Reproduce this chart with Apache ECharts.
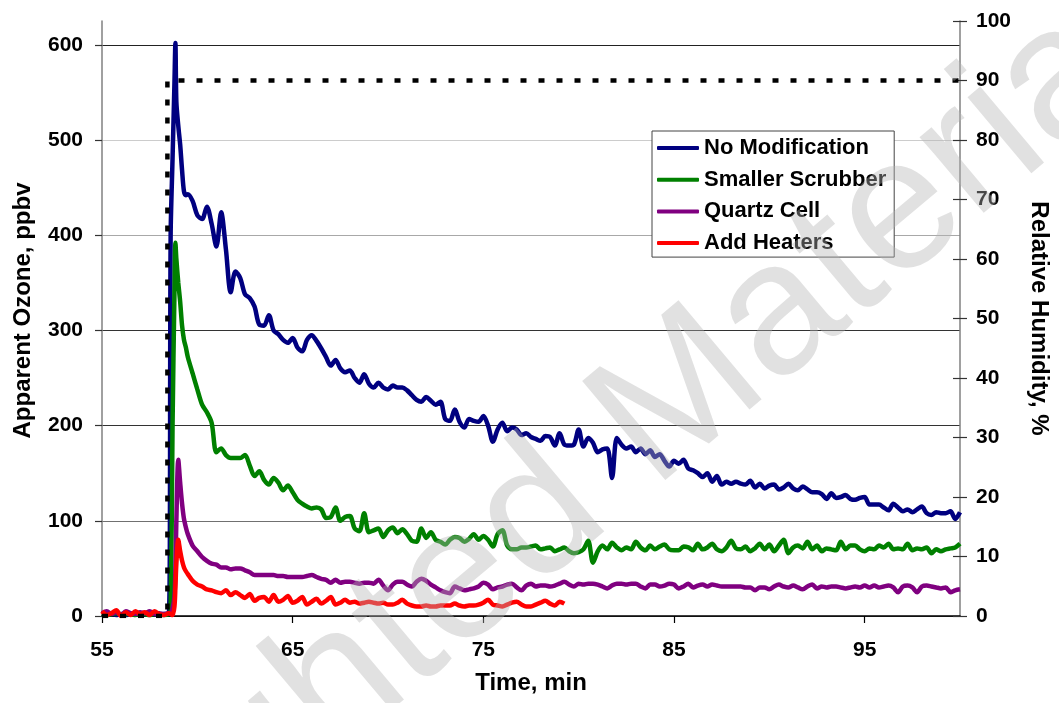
<!DOCTYPE html>
<html>
<head>
<meta charset="utf-8">
<title>Apparent Ozone vs Time</title>
<script src="https://cdn.jsdelivr.net/npm/echarts@6/dist/echarts.min.js"></script>
<style>
  html, body { margin: 0; padding: 0; background: #fff; }
  #chart { width: 1059px; height: 703px; }
</style>
</head>
<body>
<div id="chart"></div>
<script>
// Sample times (min)
const times = [
  55, 55.25, 55.5, 55.75, 56, 56.25, 56.5, 56.75, 57, 57.25, 57.5, 57.75, 58, 58.25, 58.5,
  58.6, 58.7, 58.8, 58.85, 58.9, 59, 59.1, 59.2, 59.3, 59.4, 59.5,
  59.75,
  60, 60.25, 60.5, 60.75, 61, 61.25, 61.5, 61.75, 62, 62.25, 62.5, 62.75, 63, 63.25, 63.5, 63.75,
  64, 64.25, 64.5, 64.75, 65, 65.25, 65.5, 65.75, 66, 66.25, 66.5, 66.75, 67, 67.25, 67.5, 67.75,
  68, 68.25, 68.5, 68.75, 69, 69.25, 69.5, 69.75, 70, 70.25, 70.5, 70.75, 71, 71.25, 71.5, 71.75,
  72, 72.25, 72.5, 72.75, 73, 73.25, 73.5, 73.75, 74, 74.25, 74.5, 74.75, 75, 75.25, 75.5, 75.75,
  76, 76.25, 76.5, 76.75, 77, 77.25, 77.5, 77.75, 78, 78.25, 78.5, 78.75, 79, 79.25, 79.5, 79.75,
  80, 80.25, 80.5, 80.75, 81, 81.25, 81.5, 81.75, 82, 82.25, 82.5, 82.75, 83, 83.25, 83.5, 83.75,
  84, 84.25, 84.5, 84.75, 85, 85.25, 85.5, 85.75, 86, 86.25, 86.5, 86.75, 87, 87.25, 87.5, 87.75,
  88, 88.25, 88.5, 88.75, 89, 89.25, 89.5, 89.75, 90, 90.25, 90.5, 90.75, 91, 91.25, 91.5, 91.75,
  92, 92.25, 92.5, 92.75, 93, 93.25, 93.5, 93.75, 94, 94.25, 94.5, 94.75, 95, 95.25, 95.5, 95.75,
  96, 96.25, 96.5, 96.75, 97, 97.25, 97.5, 97.75, 98, 98.25, 98.5, 98.75, 99, 99.25, 99.5, 99.75,
  100
];

// Apparent ozone, ppbv
const noModification = [
  2, 1, 3, 1, 2, 1, 2, 2, 1, 2, 3, 2, 1, 2, 2,
  400, 480, 560, 602, 540, 515, 495, 468, 446, 442, 443,
  436,
  421, 417, 430, 412, 388, 424, 385, 340, 362, 355, 338, 334, 325, 306, 305, 316,
  300, 296, 290, 287, 292, 282, 278, 290, 295, 289, 281, 272, 263, 269, 260, 256,
  258, 250, 245, 254, 244, 240, 245, 240, 238, 242, 240, 240, 237, 232, 227, 225,
  230, 226, 222, 225, 207, 205, 217, 204, 198, 207, 205, 204, 210, 200, 183, 196,
  203, 194, 198, 196, 190, 192, 188, 186, 184, 189, 188, 179, 192, 180, 179, 180,
  196, 178, 187, 182, 172, 175, 176, 145, 187, 180, 176, 178, 172, 176, 170, 174,
  167, 170, 163, 157, 163, 160, 164, 155, 153, 150, 146, 150, 141, 147, 138, 141,
  139, 141, 139, 138, 142, 135, 139, 134, 137, 138, 133, 135, 139, 134, 132, 136,
  133, 130, 130, 128, 123, 129, 124, 125, 127, 123, 122, 124, 125, 117, 117, 117,
  114, 111, 118, 114, 110, 112, 109, 112, 115, 108, 106, 109, 108, 108, 110, 102,
  109
];

const smallerScrubber = [
  2, 1, 2, 3, 1, 2, 2, 1, 3, 2, 1, 2, 2, 1, 2,
  5, 200, 340, 392, 375, 350, 330, 305, 290, 282, 272,
  255,
  238, 222, 214, 203, 172, 176, 169, 166, 166, 166, 169, 158, 147, 152, 143, 138,
  145, 140, 132, 137, 130, 122, 118, 115, 113, 114, 112, 103, 104, 114, 100, 104,
  105, 92, 89, 108, 88, 90, 92, 83, 90, 93, 87, 91, 86, 79, 78, 92,
  82, 88, 80, 78, 75, 80, 83, 82, 78, 81, 86, 80, 84, 80, 73, 86,
  90, 74, 70, 70, 72, 72, 73, 74, 70, 71, 72, 68, 70, 72, 68, 66,
  67, 70, 79, 56, 68, 74, 70, 77, 72, 69, 72, 70, 78, 72, 69, 74,
  70, 73, 75, 70, 69, 69, 73, 72, 69, 76, 70, 72, 76, 70, 68, 72,
  79, 71, 70, 73, 68, 71, 76, 70, 75, 68, 74, 80, 66, 72, 74, 71,
  78, 70, 74, 68, 71, 70, 69, 78, 70, 74, 74, 70, 68, 71, 70, 74,
  72, 76, 70, 71, 70, 76, 69, 71, 70, 72, 66, 70, 68, 70, 71, 72,
  76
];

const quartzCell = [
  3, 5, 2, 4, 1, 5, 3, 2, 4, 3, 5, 2, 3, 2, 3,
  3, 8, 20, 50, 100, 164, 140, 118, 102, 93, 86,
  74,
  68, 62, 58, 55, 54, 51, 51, 49, 50, 50, 48, 46, 43, 43, 43, 43,
  43, 42, 42, 41, 41, 41, 41, 42, 43, 41, 39, 38, 35, 38, 35, 36,
  36, 35, 34, 35, 35, 34, 38, 32, 27, 33, 36, 36, 33, 31, 36, 39,
  37, 33, 30, 27, 25, 24, 31, 29, 27, 28, 29, 31, 35, 33, 28, 30,
  31, 33, 34, 30, 27, 32, 34, 31, 32, 32, 31, 32, 34, 36, 33, 31,
  34, 33, 34, 34, 33, 31, 29, 32, 34, 34, 33, 34, 34, 31, 29, 33,
  33, 31, 32, 34, 33, 29, 31, 34, 30, 32, 33, 31, 33, 32, 31, 31,
  31, 31, 31, 30, 30, 27, 30, 30, 28, 31, 33, 31, 30, 32, 30, 28,
  31, 33, 29, 31, 30, 31, 31, 30, 29, 30, 31, 30, 32, 30, 32, 30,
  31, 32, 30, 25, 31, 32, 30, 25, 31, 32, 31, 30, 29, 30, 25, 27,
  28
];

const addHeaters = [
  5, 1, 3, 6, 0, 4, 1, 5, 2, 4, 1, 5, 2, 1, 3,
  2, 1, 10, 30, 55, 80, 68, 58, 51, 47, 44,
  37,
  33, 31, 28, 27, 25, 24, 27, 22, 25, 22, 19, 23, 16, 19, 20, 15,
  22, 15, 17, 21, 14, 16, 20, 12, 15, 18, 13, 16, 20, 12, 14, 17,
  14, 15, 13, 14, 15, 14, 13, 14, 12, 12, 14, 17, 13, 11, 10, 10,
  11, 10, 10, 11, 11, 11, 13, 11, 10, 11, 11, 12, 14, 17, 12, 11,
  10, 12, 14, 15, 12, 10, 10, 12, 14, 16, 13, 11, 15, 13, null, null,
  null, null, null, null, null, null, null, null, null, null, null, null, null, null, null, null,
  null, null, null, null, null, null, null, null, null, null, null, null, null, null, null, null,
  null, null, null, null, null, null, null, null, null, null, null, null, null, null, null, null,
  null, null, null, null, null, null, null, null, null, null, null, null, null, null, null, null,
  null, null, null, null, null, null, null, null, null, null, null, null, null, null, null, null,
  null
];

// Relative humidity step (%)
const rhTimes = [55, 58.43, 58.43, 100];
const rhValues = [0, 0, 90, 90];

// Axis ticks
const ozoneTicks = [0, 100, 200, 300, 400, 500, 600];

const seriesNames = ['No Modification', 'Smaller Scrubber', 'Quartz Cell', 'Add Heaters'];
const seriesColors = ['#000080', '#008000', '#800080', '#ff0000'];
const seriesValues = [noModification, smallerScrubber, quartzCell, addHeaters];

const FONT = 'Liberation Sans, Arial, sans-serif';

function pairs(xs, ys) {
  return xs.map((x, i) => [x, ys[i]]);
}

const chart = echarts.init(document.getElementById('chart'), null, { renderer: 'canvas' });

const ozoneSeries = seriesNames.map((name, i) => ({
  name: name,
  type: 'line',
  xAxisIndex: 0,
  yAxisIndex: 0,
  data: pairs(times, seriesValues[i]),
  showSymbol: false,
  symbol: 'none',
  smooth: 0.3,
  connectNulls: false,
  lineStyle: { color: seriesColors[i], width: 4.5 },
  itemStyle: { color: seriesColors[i] },
  z: 3 + i
}));

const rhSeries = {
  name: 'RH',
  type: 'line',
  xAxisIndex: 0,
  yAxisIndex: 1,
  data: pairs(rhTimes, rhValues),
  showSymbol: false,
  symbol: 'none',
  lineStyle: { color: '#000', width: 4.5, type: [6, 12], cap: 'butt' },
  z: 8
};

const axisLabelStyle = { fontFamily: FONT, fontWeight: 'bold', fontSize: 21, color: '#000' };
const axisNameStyle = { fontFamily: FONT, fontWeight: 'bold', fontSize: 24, color: '#000' };

chart.setOption({
  animation: false,
  backgroundColor: '#fff',
  grid: { left: 102, right: 91, top: 21, bottom: 87, containLabel: false },
  legend: {
    data: seriesNames,
    orient: 'vertical',
    left: 652,
    top: 131,
    padding: [6, 8, 3, 5],
    itemGap: 9.7,
    itemWidth: 42,
    itemHeight: 4,
    icon: 'roundRect',
    backgroundColor: '#fff',
    borderColor: '#444',
    borderWidth: 1,
    borderRadius: 0,
    textStyle: { fontFamily: FONT, fontWeight: 'bold', fontSize: 22, color: '#000' }
  },
  xAxis: [{
    type: 'value',
    min: 55,
    max: 100,
    interval: 10,
    name: 'Time, min',
    nameLocation: 'middle',
    nameGap: 55,
    nameTextStyle: axisNameStyle,
    axisLine: { show: true, onZero: false, lineStyle: { color: '#000', width: 1.5 } },
    axisTick: { show: true, inside: false, length: 7, lineStyle: { color: '#000', width: 1.2 } },
    axisLabel: Object.assign({ margin: 24, showMaxLabel: false }, axisLabelStyle),
    splitLine: { show: false }
  }],
  yAxis: [{
    type: 'value',
    position: 'left',
    min: 0,
    max: 625,
    interval: 100,
    name: 'Apparent Ozone, ppbv',
    nameLocation: 'middle',
    nameGap: 67,
    nameTextStyle: Object.assign({ padding: [0, 0, 0, 16] }, axisNameStyle),
    axisLine: { show: true, onZero: false, lineStyle: { color: '#808080', width: 1.5 } },
    axisTick: { show: true, inside: false, length: 7, customValues: ozoneTicks, lineStyle: { color: '#333', width: 1.2 } },
    axisLabel: Object.assign({ margin: 19, customValues: ozoneTicks }, axisLabelStyle),
    splitLine: {
      show: true,
      lineStyle: { width: 1, color: ['#444', '#707070', '#333', '#333', '#a8a8a8', '#cccccc', '#222', '#fff'] }
    }
  }, {
    type: 'value',
    position: 'right',
    min: 0,
    max: 100,
    interval: 10,
    name: 'Relative Humidity, %',
    nameLocation: 'middle',
    nameRotate: -90,
    nameGap: 67,
    nameTextStyle: axisNameStyle,
    axisLine: { show: true, onZero: false, lineStyle: { color: '#808080', width: 1.5 } },
    axisTick: { show: true, inside: false, length: 7, lineStyle: { color: '#333', width: 1.2 } },
    axisLabel: Object.assign({ margin: 16 }, axisLabelStyle),
    splitLine: { show: false }
  }, {
    // inner half of the cross ticks on the humidity axis
    type: 'value',
    position: 'right',
    min: 0,
    max: 100,
    interval: 10,
    axisLine: { show: false },
    axisTick: { show: true, inside: true, length: 7, lineStyle: { color: '#333', width: 1.2 } },
    axisLabel: { show: false },
    splitLine: { show: false }
  }],
  graphic: [{
    type: 'text',
    x: 468,
    y: 578,
    rotation: 40 * Math.PI / 180,
    z: 100,
    silent: true,
    style: {
      text: 'Copyrighted Material',
      font: 'normal 188px ' + FONT,
      fill: 'rgba(180,180,180,0.4)',
      textAlign: 'center',
      textVerticalAlign: 'middle'
    }
  }],
  series: ozoneSeries.concat([rhSeries])
});
</script>
</body>
</html>
